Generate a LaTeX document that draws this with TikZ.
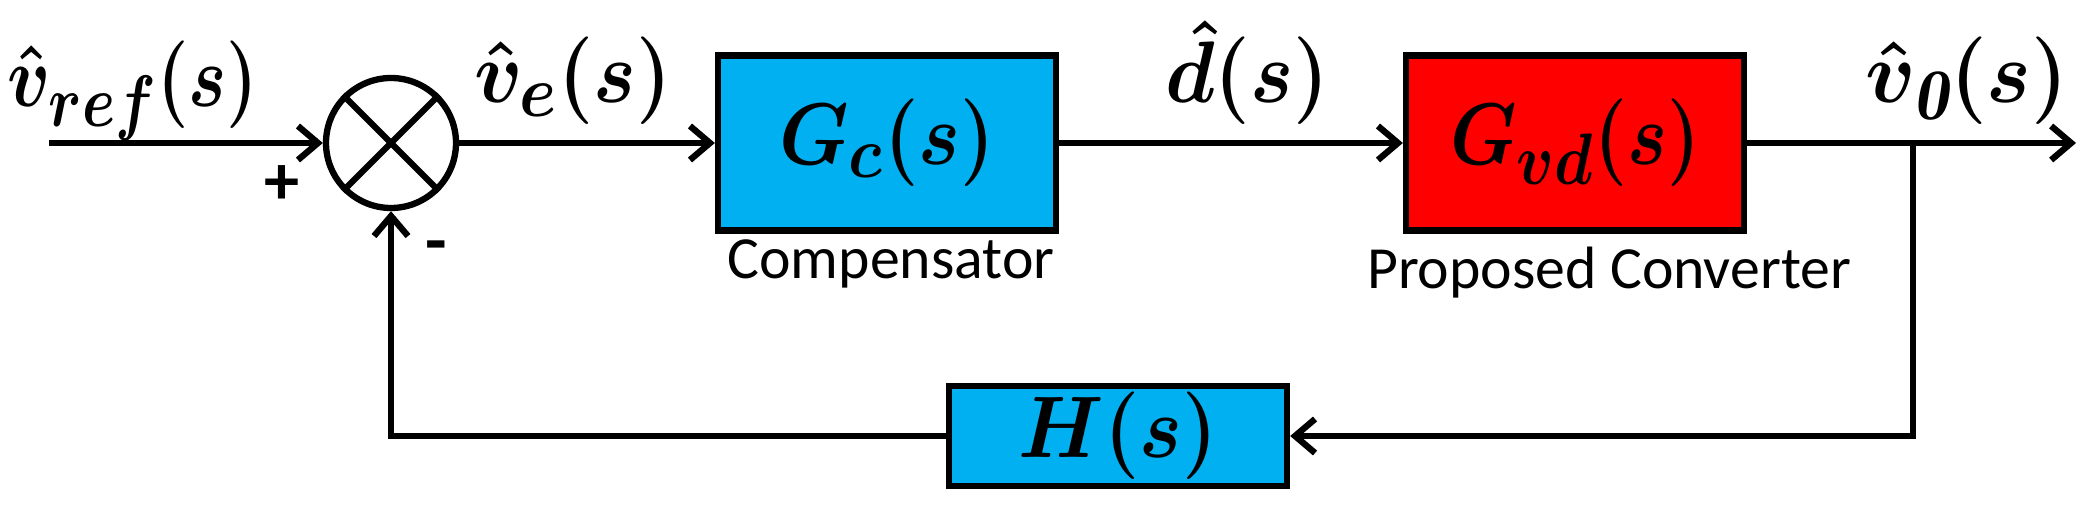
\documentclass[tikz,border=0pt]{standalone}
\usepackage{amsmath,amssymb}
\usepackage{graphicx}
\usepackage{fontspec}
\usepackage{xcolor}
\usepackage{tikz}
\usetikzlibrary{positioning,calc,arrows.meta}
\newfontfamily\labelfont{Carlito}
\definecolor{blockblue}{HTML}{00B0F0}
\definecolor{blockred}{HTML}{FF0000}
\newcommand{\mlabel}[2][0.9]{\scalebox{#1}[1]{$#2$}}
\tikzset{
    block/.style={draw, line width=1.8pt, minimum width=3.38cm, inner sep=0pt, font=\Huge\boldmath},
    sumnode/.style={circle, draw, line width=1.8pt, minimum size=1.3cm, inner sep=0pt},
    signal/.style={line width=1.8pt, -{Straight Barb[length=2mm, width=3.4mm]}},
    siglabel/.style={anchor=base, inner sep=0pt, font=\Huge\boldmath},
    namelabel/.style={anchor=base, inner sep=0pt, font=\labelfont\fontsize{17}{20}\selectfont},
    signlabel/.style={inner sep=0pt, font=\labelfont\bfseries\fontsize{20}{24}\selectfont}
}

\begin{document}
\begin{tikzpicture}[line width=1.8pt]
        \useasboundingbox (0,0) rectangle (20.94,5.14);
        % Summing junction
        \node[sumnode] (sum) at (3.91,3.71) {};
        \draw (sum.north west) -- (sum.south east);
        \draw (sum.north east) -- (sum.south west);
        % Blocks
        \node[block, fill=blockblue, minimum height=1.75cm] (gc) at (8.87,3.71) {\mlabel{G_c(s)}};
        \node[block, fill=blockred, minimum height=1.75cm] (gvd) at (15.75,3.71) {\mlabel[0.86]{G_{vd}(s)}};
        \node[block, fill=blockblue, minimum height=1.0cm] (h) at (11.18,0.78) {\mlabel[0.92]{H(s)}};
        % Points
        \coordinate (in) at (0.49,3.71);
        \coordinate (branch) at (19.13,3.71);
        \coordinate (out) at (20.76,3.71);

        % Signals
        \draw[signal] (in) -- (sum);
        \draw[signal] (sum) -- (gc);
        \draw[signal] (gc) -- (gvd);
        \draw[signal] (gvd) -- (out);
        \draw[signal] (branch) |- (h);
        \draw[signal] (h) -| (sum);

        % Labels
        \node[siglabel] (vref) at (1.33,4.07) {\mlabel[0.82]{\hat{v}_{ref}(s)}};
        \node[siglabel] (ve) at (5.73,4.11) {\mlabel[0.92]{\hat{v}_e(s)}};
        \node[siglabel] (dhat) at (12.47,4.11) {\mlabel[0.93]{\hat{d}(s)}};
        \node[siglabel] (vo) at (19.67,4.11) {\mlabel[0.96]{\hat{v}_{\mathit{0}}(s)}};
        \node[namelabel] (gclabel) at (8.91,2.35) {Compensator};
        \node[namelabel] (gvdlabel) at (16.09,2.25) {Proposed Converter};
        \node[signlabel] (plus) at (2.82,3.29) {+};
        \node[signlabel] (minus) at (4.36,2.61) {-};
    \end{tikzpicture}
\end{document}
